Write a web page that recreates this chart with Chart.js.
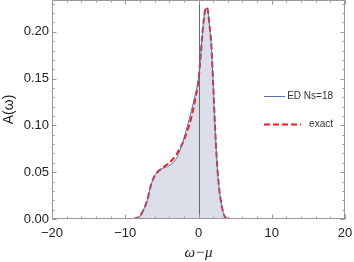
<!DOCTYPE html>
<html>
<head>
<meta charset="utf-8">
<script src="https://cdn.jsdelivr.net/npm/chart.js@4/dist/chart.umd.min.js"></script>
<style>
  html, body { margin: 0; padding: 0; background: #fff; }
  #chart { display: block; }
</style>
</head>
<body>
<canvas id="chart" width="354" height="262"></canvas>
<script>
// omega - mu grid
const omega = [-20, -9.5, -9, -8.5, -8, -7.5, -7, -6.5, -6, -5.5, -5, -4.5, -4, -3.5, -3, -2.5, -2, -1.5, -1, -0.5,
  0, 0.25, 0.5, 0.75, 1, 1.25, 1.5, 1.75, 2, 2.25, 2.5, 2.75, 3, 3.25, 3.5, 3.75, 4, 4.5, 20];

// spectral function A(omega), exact diagonalization Ns=18
const edValues = [0, 0, 0, 0.001, 0.003, 0.010, 0.020, 0.036, 0.046, 0.051, 0.054, 0.055, 0.057, 0.060, 0.065, 0.074, 0.086, 0.100, 0.115, 0.131,
  0.150, 0.171, 0.196, 0.215, 0.225, 0.224, 0.207, 0.186, 0.145, 0.100, 0.063, 0.038, 0.022, 0.011, 0.004, 0.001, 0, 0, 0];

// exact result
const exactValues = [0, 0, 0, 0.001, 0.003, 0.010, 0.020, 0.036, 0.046, 0.051, 0.054, 0.057, 0.060, 0.064, 0.069, 0.076, 0.084, 0.095, 0.108, 0.126,
  0.149, 0.170, 0.195, 0.215, 0.226, 0.224, 0.207, 0.186, 0.145, 0.100, 0.063, 0.038, 0.022, 0.011, 0.004, 0.001, 0, 0, 0];

const xTicks = [-20, -10, 0, 10, 20];
const yTicks = [0, 0.05, 0.10, 0.15, 0.20];
const xMinorStep = 2;
const yMinorStep = 0.01;

const seriesLabels = ["ED Ns=18", "exact"];
const xTitle = "\u03c9\u2212\u03bc";

const toPoints = (ys) => omega.map((x, i) => ({ x: x, y: ys[i] }));

// frame with inward ticks on all four sides, plus the line at omega = mu
const frameTicks = {
  id: "frameTicks",
  beforeDatasetsDraw(chart) {
    const { ctx, chartArea: a, scales } = chart;
    const x0 = scales.x.getPixelForValue(0);
    ctx.save();
    ctx.strokeStyle = "#6a6a6a";
    ctx.lineWidth = 1;
    ctx.beginPath();
    ctx.moveTo(Math.round(x0) + 0.5, a.top);
    ctx.lineTo(Math.round(x0) + 0.5, a.bottom);
    ctx.stroke();
    ctx.restore();
  },
  afterDatasetsDraw(chart) {
    const { ctx, chartArea: a, scales } = chart;
    ctx.save();
    ctx.strokeStyle = "#999";
    ctx.lineWidth = 1;
    ctx.strokeRect(a.left + 0.5, a.top + 0.5, a.right - a.left - 1, a.bottom - a.top - 1);

    ctx.beginPath();
    for (let v = -20; v <= 20.001; v += xMinorStep) {
      const px = Math.round(scales.x.getPixelForValue(v)) + 0.5;
      const len = Math.abs(v % 10) < 1e-6 ? 4.5 : 2.5;
      ctx.moveTo(px, a.bottom);
      ctx.lineTo(px, a.bottom - len);
      ctx.moveTo(px, a.top);
      ctx.lineTo(px, a.top + len);
    }
    for (let v = 0; v <= scales.y.max + 1e-9; v += yMinorStep) {
      const py = Math.round(scales.y.getPixelForValue(v)) + 0.5;
      const k = Math.round(v / yMinorStep);
      const len = k % 5 === 0 ? 4.5 : 2.5;
      ctx.moveTo(a.left, py);
      ctx.lineTo(a.left + len, py);
      ctx.moveTo(a.right, py);
      ctx.lineTo(a.right - len, py);
    }
    ctx.stroke();
    ctx.restore();
  },
  afterDraw(chart) {
    const { ctx, chartArea: a } = chart;
    ctx.save();
    // x axis title
    ctx.font = "italic 15px 'Liberation Serif', 'DejaVu Serif', serif";
    ctx.fillStyle = "#222";
    ctx.textAlign = "center";
    ctx.textBaseline = "middle";
    ctx.fillText(xTitle, (a.left + a.right) / 2, 253);

    // legend on the right, text right-aligned like the original
    const rows = [96, 124];
    const sampleEnd = [285, 301];
    ctx.font = "10px 'Liberation Sans', Arial, sans-serif";
    ctx.fillStyle = "#333";
    ctx.textAlign = "right";
    chart.data.datasets.forEach((ds, i) => {
      const y = rows[i];
      ctx.strokeStyle = ds.borderColor;
      ctx.lineWidth = ds.borderWidth;
      ctx.setLineDash(ds.borderDash || []);
      ctx.beginPath();
      ctx.moveTo(264, y + 0.5);
      ctx.lineTo(sampleEnd[i], y + 0.5);
      ctx.stroke();
      ctx.fillText(ds.label, 333, y);
    });
    ctx.restore();
  }
};

new Chart(document.getElementById("chart"), {
  type: "line",
  data: {
    datasets: [
      {
        label: seriesLabels[0],
        data: toPoints(edValues),
        borderColor: "#5b6ea8",
        borderWidth: 1,
        backgroundColor: "#dcdfe9",
        fill: "origin",
        pointRadius: 0,
        cubicInterpolationMode: "monotone"
      },
      {
        label: seriesLabels[1],
        data: toPoints(exactValues),
        borderColor: "#ff1a1a",
        borderWidth: 2,
        borderDash: [6, 3],
        fill: false,
        pointRadius: 0,
        cubicInterpolationMode: "monotone"
      }
    ]
  },
  options: {
    responsive: false,
    devicePixelRatio: 1,
    animation: false,
    layout: { padding: { left: 0, right: 9, top: 0, bottom: 0 } },
    plugins: {
      legend: { display: false },
      tooltip: { enabled: false },
      filler: { drawTime: "beforeDraw" }
    },
    scales: {
      x: {
        type: "linear",
        min: -20,
        max: 20,
        afterBuildTicks: (s) => { s.ticks = xTicks.map((v) => ({ value: v })); },
        afterFit: (s) => {
          s.height = 43;
          s.paddingLeft = 0;
          s.paddingRight = 0;
        },
        grid: { display: false, drawTicks: false },
        border: { display: false },
        ticks: {
          padding: 7,
          maxRotation: 0,
          color: "#222",
          font: { family: "'Liberation Sans', Arial, sans-serif", size: 13 },
          callback: (v) => (v < 0 ? "\u2212" + Math.abs(v) : String(v))
        }
      },
      y: {
        min: 0,
        max: 0.234,
        afterBuildTicks: (s) => { s.ticks = yTicks.map((v) => ({ value: v })); },
        afterFit: (s) => {
          s.width = 52;
          s.paddingTop = 0;
          s.paddingBottom = 0;
        },
        grid: { display: false, drawTicks: false },
        border: { display: false },
        ticks: {
          padding: 3,
          color: "#222",
          font: { family: "'Liberation Sans', Arial, sans-serif", size: 13 },
          callback: (v) => v.toFixed(2)
        },
        title: {
          display: true,
          text: "A(\u03c9)",
          color: "#222",
          padding: { top: 2, bottom: 0 },
          font: { family: "'Liberation Sans', Arial, sans-serif", size: 14, lineHeight: 1 }
        }
      }
    }
  },
  plugins: [frameTicks]
});
</script>
</body>
</html>
